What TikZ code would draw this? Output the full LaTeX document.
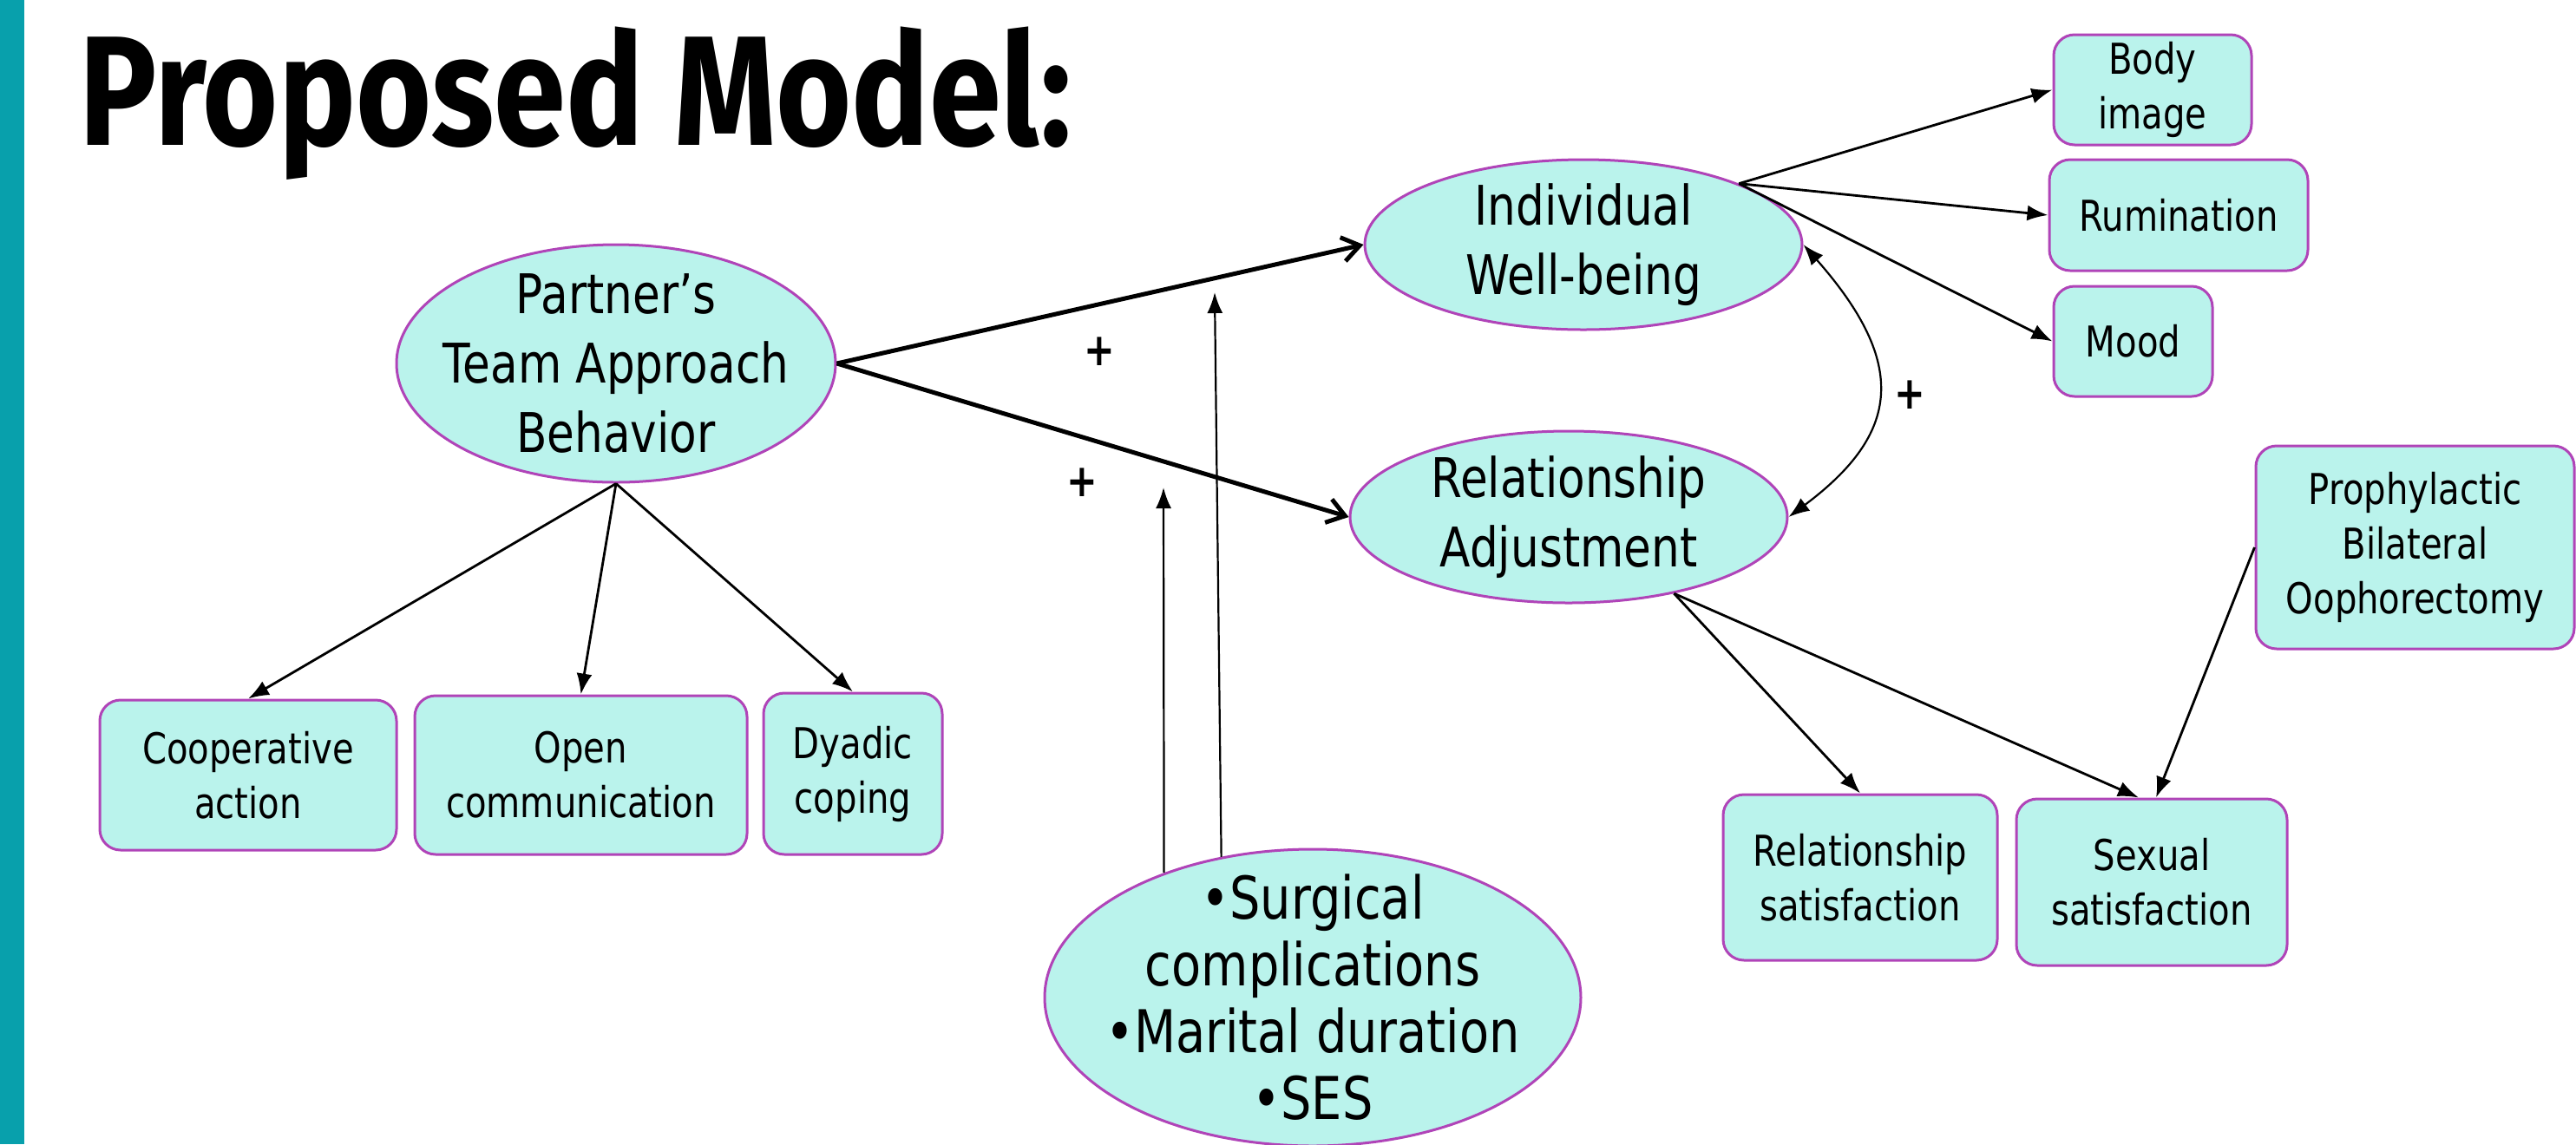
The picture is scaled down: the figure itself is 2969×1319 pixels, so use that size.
\documentclass[tikz,border=0pt]{standalone}
\usepackage{fontspec}
\setmainfont{DejaVu Sans}[FakeStretch=0.82]
\newfontfamily\titlefont{Fira Sans}[FakeStretch=0.83]
\usetikzlibrary{shapes.geometric,arrows.meta}
\definecolor{barteal}{HTML}{08A0AC}
\definecolor{bubblefill}{HTML}{BAF3EC}
\definecolor{bubbleline}{HTML}{B044B8}

\begin{document}
\begin{tikzpicture}[x=0.25pt, y=-0.25pt,
            latent/.style={ellipse, draw=bubbleline, fill=bubblefill, line width=0.75pt, inner sep=-40pt, align=center, font=\fontsize{15.75}{20}\selectfont},
            indbox/.style={rectangle, rounded corners=6pt, draw=bubbleline, fill=bubblefill, line width=0.75pt, inner sep=0pt, align=center, font=\fontsize{12.25}{15.75}\selectfont},
            patharrow/.style={-{Straight Barb[length=5pt,width=7pt]}, line width=1.25pt},
            linkarrow/.style={-{Latex[length=6pt,width=4.5pt]}, line width=0.7pt},
            plussign/.style={font=\bfseries\fontsize{13}{13}\selectfont, inner sep=0pt}]
            \useasboundingbox (0,0) rectangle (2969,1319);
            \fill[white] (0,0) rectangle (2969,1319);
            \fill[barteal] (0,0) rectangle (28,1319);
            \node[anchor=base west, inner sep=0pt, font=\titlefont\bfseries\fontsize{45}{45}\selectfont] (title) at (91,167) {Proposed Model:};

            \node[latent, minimum width=126.5pt, minimum height=68.5pt] (ptab) at (710,419) {Partner’s\\Team Approach\\Behavior};
            \node[latent, minimum width=126pt, minimum height=49pt] (iwb) at (1825,282) {Individual\\Well-being};
            \node[latent, minimum width=126pt, minimum height=49.5pt] (radj) at (1808,596) {Relationship\\Adjustment};
            \node[latent, minimum width=154.5pt, minimum height=85.5pt, font=\fontsize{17}{19.25}\selectfont] (moder) at (1513,1150) {•Surgical\\complications\\•Marital duration\\•SES};

            \node[indbox, minimum width=57pt, minimum height=31.75pt] (bodyimg) at (2481,103.5) {Body\\image};
            \node[indbox, minimum width=74.5pt, minimum height=32pt] (rumin) at (2511,248) {Rumination};
            \node[indbox, minimum width=45.75pt, minimum height=31.75pt] (mood) at (2458.5,393.5) {Mood};
            \node[indbox, minimum width=91.75pt, minimum height=58.5pt] (pbo) at (2783.5,631) {Prophylactic\\Bilateral\\Oophorectomy};
            \node[indbox, minimum width=79pt, minimum height=47.75pt] (relsat) at (2144,1011.5) {Relationship\\satisfaction};
            \node[indbox, minimum width=78pt, minimum height=48pt] (sexsat) at (2480,1017) {Sexual\\satisfaction};
            \node[indbox, minimum width=85.5pt, minimum height=43.25pt] (coop) at (286,893.5) {Cooperative\\action};
            \node[indbox, minimum width=95.75pt, minimum height=45.75pt] (opencomm) at (669.5,893.5) {Open\\communication};
            \node[indbox, minimum width=51.5pt, minimum height=46.5pt] (dyadic) at (983,892) {Dyadic\\coping};

            \node[plussign] (plusa) at (1267,405) {+};
            \node[plussign] (plusb) at (1247,556) {+};
            \node[plussign] (plusc) at (2201,455) {+};

            \coordinate (tipa) at (1341,562);
            \coordinate (tipb) at (1400,337);

            \draw[patharrow] (ptab.east) -- (iwb.west);
            \draw[patharrow] (ptab.east) -- (radj.west);
            \foreach \b in {bodyimg, rumin, mood}
                \draw[linkarrow] (iwb.north east) -- (\b.west);
            \foreach \b in {coop, opencomm, dyadic}
                \draw[linkarrow] (ptab.south) -- (\b.north);
            \draw[linkarrow] (radj.-36) -- (relsat.north);
            \draw[linkarrow] (radj.-36) -- ([xshift=-3.75pt]sexsat.north);
            \draw[linkarrow] (pbo.west) -- ([xshift=1.25pt]sexsat.north);
            \draw[linkarrow, line width=0.55pt, {Latex[length=6pt,width=4.5pt]}-{Latex[length=6pt,width=4.5pt]}] (iwb.east) .. controls (2200,420) and (2190,500) .. (radj.east);
            \draw[linkarrow, line width=0.55pt] (moder.140) -- (tipa);
            \draw[linkarrow, line width=0.55pt] (moder.123) -- (tipb);
\end{tikzpicture}
\end{document}
